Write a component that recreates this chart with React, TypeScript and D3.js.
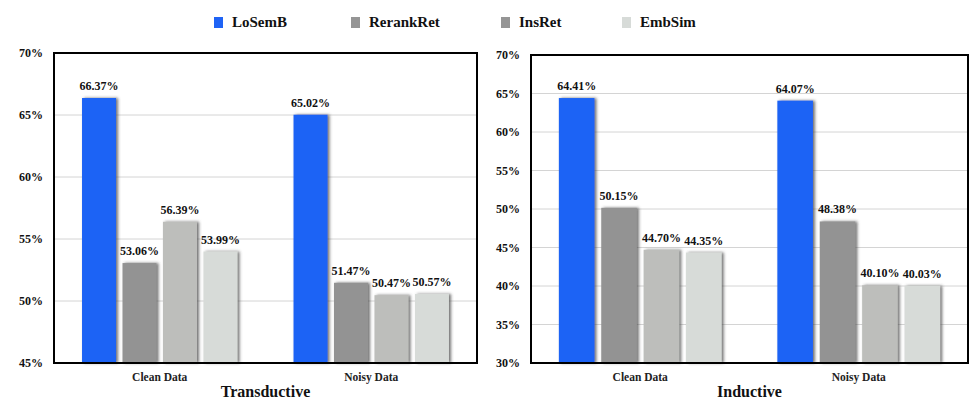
import React, { useEffect, useRef } from 'react';
import * as d3 from 'd3';

const methods = ['LoSemB', 'RerankRet', 'InsRet', 'EmbSim'];
const barColors = ['#1f63f5', '#939393', '#bdbebb', '#d7dbd8'];
const legendColors = ['#1f63f5', '#959595', '#959595', '#d7dbd8'];
const categories = ['Clean Data', 'Noisy Data'];

const transductive = [
  [66.37, 53.06, 56.39, 53.99],
  [65.02, 51.47, 50.47, 50.57],
];
const inductive = [
  [64.41, 50.15, 44.7, 44.35],
  [64.07, 48.38, 40.1, 40.03],
];

const transTicks = [45, 50, 55, 60, 65, 70];
const indTicks = [30, 35, 40, 45, 50, 55, 60, 65, 70];

const FONT = '"Liberation Serif", "Times New Roman", serif';

interface Panel {
  title: string;
  data: number[][];
  ticks: number[];
  x0: number;
  x1: number;
  y0: number;
  y1: number;
  spread: number;
}

const panels: Panel[] = [
  { title: 'Transductive', data: transductive, ticks: transTicks, x0: 54, x1: 477, y0: 53, y1: 363, spread: 0.735 },
  { title: 'Inductive', data: inductive, ticks: indTicks, x0: 531, x1: 968, y0: 55, y1: 363, spread: 0.745 },
];

const App: React.FC = () => {
  const svgRef = useRef<SVGSVGElement>(null);

  useEffect(() => {
    if (!svgRef.current) return;
    const svg = d3.select(svgRef.current);
    svg.selectAll('*').remove();

    const defs = svg.append('defs');
    const f = defs.append('filter').attr('id', 'shadow')
      .attr('x', '-30%').attr('y', '-30%').attr('width', '160%').attr('height', '160%');
    f.append('feDropShadow')
      .attr('dx', 2).attr('dy', 0)
      .attr('stdDeviation', 1.6)
      .attr('flood-color', '#444')
      .attr('flood-opacity', 0.75);

    // legend
    const legendX = [214, 351, 501, 622];
    const legend = svg.append('g');
    methods.forEach((m, i) => {
      legend.append('rect')
        .attr('x', legendX[i]).attr('y', 17)
        .attr('width', 9).attr('height', 11)
        .attr('fill', legendColors[i]);
      legend.append('text')
        .attr('x', legendX[i] + 18).attr('y', 27)
        .attr('font-family', FONT).attr('font-weight', 'bold')
        .attr('font-size', 15).attr('fill', '#111')
        .text(m);
    });

    panels.forEach(p => {
      const g = svg.append('g');
      const lo = p.ticks[0];
      const hi = p.ticks[p.ticks.length - 1];
      const y = d3.scaleLinear().domain([lo, hi]).range([p.y1, p.y0]);
      const x0 = d3.scaleBand<string>().domain(categories).range([p.x0, p.x1]);
      const inner = x0.bandwidth() * p.spread;
      const off = (x0.bandwidth() - inner) / 2;
      const x1 = d3.scaleBand<string>().domain(methods).range([off, off + inner]).paddingInner(0.16);

      // grid
      g.selectAll('.grid')
        .data(p.ticks.slice(1, -1))
        .enter().append('line')
        .attr('x1', p.x0).attr('x2', p.x1)
        .attr('y1', d => y(d)).attr('y2', d => y(d))
        .attr('stroke', '#d4d4d4').attr('stroke-width', 1);

      // tick labels
      g.selectAll('.tick')
        .data(p.ticks)
        .enter().append('text')
        .attr('x', p.x0 - 11)
        .attr('y', d => y(d) + 4)
        .attr('text-anchor', 'end')
        .attr('font-family', FONT).attr('font-weight', 'bold')
        .attr('font-size', 12).attr('fill', '#111')
        .text(d => `${d}%`);

      // bars
      p.data.forEach((vals, ci) => {
        const gx = x0(categories[ci])!;
        vals.forEach((v, mi) => {
          const bx = gx + x1(methods[mi])!;
          g.append('rect')
            .attr('x', bx).attr('y', y(v))
            .attr('width', x1.bandwidth())
            .attr('height', p.y1 - y(v))
            .attr('fill', barColors[mi])
            .attr('filter', 'url(#shadow)');
          g.append('text')
            .attr('x', bx + x1.bandwidth() / 2)
            .attr('y', y(v) - 8)
            .attr('text-anchor', 'middle')
            .attr('font-family', FONT).attr('font-weight', 'bold')
            .attr('font-size', 12).attr('fill', '#111')
            .text(`${v.toFixed(2)}%`);
        });
        g.append('text')
          .attr('x', gx + x0.bandwidth() / 2)
          .attr('y', 381)
          .attr('text-anchor', 'middle')
          .attr('font-family', FONT).attr('font-weight', 'bold')
          .attr('font-size', 11.5).attr('fill', '#222')
          .text(categories[ci]);
      });

      // frame
      g.append('rect')
        .attr('x', p.x0).attr('y', p.y0)
        .attr('width', p.x1 - p.x0).attr('height', p.y1 - p.y0)
        .attr('fill', 'none').attr('stroke', '#000').attr('stroke-width', 2);

      g.append('text')
        .attr('x', (p.x0 + p.x1) / 2)
        .attr('y', 397)
        .attr('text-anchor', 'middle')
        .attr('font-family', FONT).attr('font-weight', 'bold')
        .attr('font-size', 16).attr('fill', '#111')
        .text(p.title);
    });
  }, []);

  return (
    <svg
      ref={svgRef}
      width={977}
      height={413}
      style={{ position: 'absolute', left: 0, top: 0, background: '#fff' }}
    />
  );
};

export default App;
